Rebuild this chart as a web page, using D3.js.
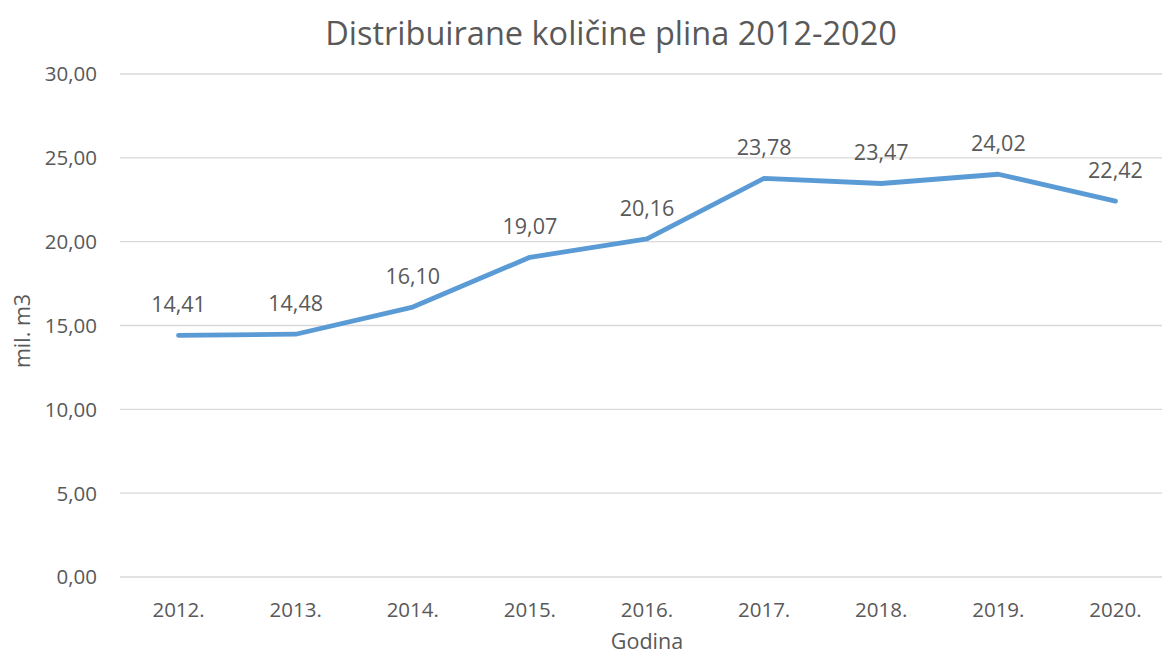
<!DOCTYPE html>
<html><head><meta charset="utf-8">
<script src="https://cdn.jsdelivr.net/npm/d3@7"></script>
<style>body{margin:0;background:#fff}text{font-family:"Open Sans",sans-serif;fill:#595959}</style>
</head><body><svg id="c" width="1162" height="657"></svg>
<script>
const categories = ["2012.","2013.","2014.","2015.","2016.","2017.","2018.","2019.","2020."];
const values = [14.41,14.48,16.10,19.07,20.16,23.78,23.47,24.02,22.42];
const yTicks = [0,5,10,15,20,25,30];
const title = "Distribuirane količine plina 2012-2020";
const yTitle = "mil. m3";
const xTitle = "Godina";

const svg = d3.select("#c");
const fmt = v => d3.format(".2f")(v).replace(".", ",");
const x = d3.scaleBand().domain(categories).range([120, 1174]);
const y = d3.scaleLinear().domain([0, 30]).range([577, 74]);

svg.append("g").selectAll("line").data(yTicks).join("line")
  .attr("x1", 120).attr("x2", 1162).attr("y1", d => y(d)).attr("y2", d => y(d))
  .attr("stroke", "#d9d9d9").attr("stroke-width", 1.3);

svg.append("g").selectAll("text").data(yTicks).join("text")
  .attr("x", 97).attr("y", d => y(d)).attr("dy", "0.36em").attr("text-anchor", "end")
  .style("font-size", "20.5px").text(fmt);

svg.append("g").selectAll("text").data(categories).join("text")
  .attr("x", d => x(d) + x.bandwidth()/2).attr("y", 617).attr("text-anchor", "middle")
  .style("font-size", "20.5px").text(d => d);

const line = d3.line().x((d,i) => x(categories[i]) + x.bandwidth()/2).y(d => y(d));
svg.append("path").datum(values).attr("d", line).attr("fill", "none")
  .attr("stroke", "#5b9bd5").attr("stroke-width", 4.8).attr("stroke-linecap", "round").attr("stroke-linejoin", "round");

svg.append("g").selectAll("text").data(values).join("text")
  .attr("x", (d,i) => x(categories[i]) + x.bandwidth()/2).attr("y", d => y(d) - 23)
  .attr("text-anchor", "middle").style("font-size", "21.5px").text(fmt);

svg.append("text").attr("x", 611).attr("y", 45).attr("text-anchor", "middle")
  .style("font-size", "32.5px").text(title);
svg.append("text").attr("transform", "translate(30,331) rotate(-90)").attr("text-anchor", "middle")
  .style("font-size", "21.5px").text(yTitle);
svg.append("text").attr("x", 647).attr("y", 649).attr("text-anchor", "middle")
  .style("font-size", "21.5px").text(xTitle);
</script></body></html>
